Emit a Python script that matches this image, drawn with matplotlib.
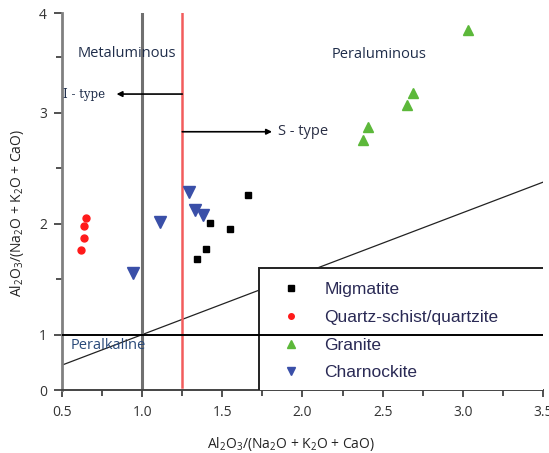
import matplotlib
matplotlib.use('Agg')
import matplotlib.pyplot as plt
from matplotlib.patches import Rectangle

plt.rcParams['font.family'] = ['Open Sans', 'DejaVu Sans']
plt.rcParams['mathtext.default'] = 'regular'

# data (x = A/CNK, y = A/NK)
mig_x = [1.66, 1.42, 1.55, 1.40, 1.34]
mig_y = [2.26, 2.01, 1.95, 1.77, 1.68]

qtz_x = [0.65, 0.64, 0.64, 0.62]
qtz_y = [2.05, 1.98, 1.87, 1.76]

gra_x = [3.03, 2.69, 2.65, 2.41, 2.38]
gra_y = [3.75, 3.18, 3.07, 2.87, 2.76]

cha_x = [1.29, 1.33, 1.38, 1.11, 0.94]
cha_y = [2.29, 2.12, 2.08, 2.02, 1.555]

# y axis of the original is not evenly spaced at the ends
ytick_pos = [0.5, 1, 2, 3, 3.9]
ytick_lab = ['0', '1', '2', '3', '4']

fig = plt.figure(figsize=(5.49, 4.53), dpi=100)
ax = fig.add_axes([0.113, 0.139, 0.876, 0.832])
ax.set_xlim(0.5, 3.5)
ax.set_ylim(0.5, 3.9)

# reference lines
ax.axvline(1.0, color='#707070', lw=2.2, zorder=2)
ax.axvline(1.25, ymin=0.008, color='#f25c5c', lw=1.8, zorder=2)
ax.axhline(1.0, color='black', lw=1.4, zorder=7)
ax.plot([0.5, 3.5], [1 + 0.55 * (0.5 - 1), 1 + 0.55 * (3.5 - 1)],
        color='#222222', lw=0.9, zorder=1)

# arrows and labels
ax.annotate('', xy=(0.84, 3.17), xytext=(1.25, 3.17),
            arrowprops=dict(arrowstyle='-|>', color='black', lw=1.2,
                            mutation_scale=8, shrinkA=0, shrinkB=0))
ax.annotate('', xy=(1.81, 2.83), xytext=(1.25, 2.83),
            arrowprops=dict(arrowstyle='-|>', color='black', lw=1.2,
                            mutation_scale=8, shrinkA=0, shrinkB=0))
ax.text(0.505, 3.17, 'I - type', fontsize=8.5, color='#1f2d4a', family='DejaVu Serif',
        va='center', ha='left')
ax.text(1.85, 2.83, 'S - type', fontsize=10.5, color='#2a2f45', va='center', ha='left')
ax.text(0.905, 3.54, 'Metaluminous', fontsize=10.5, color='#1f2d4a', ha='center', va='center')
ax.text(2.48, 3.53, 'Peraluminous', fontsize=10.5, color='#1f2d4a', ha='center', va='center')
ax.text(0.79, 0.9, 'Peralkaline', fontsize=10.5, color='#2a4a7a', ha='center', va='center')

# scatter series
ax.plot(mig_x, mig_y, 's', color='black', ms=5, ls='none', label='Migmatite', zorder=3)
ax.plot(qtz_x, qtz_y, 'o', color='#ff1a1a', ms=5, ls='none', label='Quartz-schist/quartzite', zorder=3)
ax.plot(gra_x, gra_y, '^', color='#5cb83a', ms=6.5, ls='none', label='Granite', zorder=3)
ax.plot(cha_x, cha_y, 'v', color='#3a4fa8', ms=8, ls='none', label='Charnockite', zorder=3)

# legend box (white, hides the diagonal line, the y=1 line stays on top)
box = Rectangle((0.41, -0.005), 0.62, 0.329, transform=ax.transAxes,
                facecolor='white', edgecolor='#222222', lw=1.4, clip_on=True)
box.set_zorder(5)
ax.add_patch(box)
leg = ax.legend(loc='upper left', bbox_to_anchor=(0.43, 0.318), frameon=False,
                prop={'family': 'Liberation Sans', 'size': 12.5},
                labelspacing=0.72, handlelength=1.2, handletextpad=1.3,
                markerscale=0.8, borderpad=0.2)
leg.set_zorder(6)
for t in leg.get_texts():
    t.set_color('#2a2a55')

# axes styling
for s in ['top', 'right']:
    ax.spines[s].set_visible(False)
ax.spines['left'].set_color('#808080')
ax.spines['left'].set_linewidth(2)
ax.spines['bottom'].set_color('#444444')
ax.spines['bottom'].set_linewidth(1.4)

ax.set_xticks([0.5, 1.0, 1.5, 2.0, 2.5, 3.0, 3.5])
ax.set_xticklabels(['0.5', '1.0', '1.5', '2.0', '2.5', '3.0', '3.5'])
ax.set_xticks([0.75, 1.25, 1.75, 2.25, 2.75, 3.25], minor=True)
ax.set_yticks(ytick_pos)
ax.set_yticklabels(ytick_lab)
ax.set_yticks([1.5, 2.5, 3.5], minor=True)
ax.tick_params(axis='both', which='both', direction='out', labelsize=10,
               colors='#333333', width=1.2)
ax.tick_params(axis='x', which='major', length=5, pad=6)
ax.tick_params(axis='x', which='minor', length=4)
ax.tick_params(axis='y', which='major', length=6, pad=5)
ax.tick_params(axis='y', which='minor', length=4)

ax.set_xlabel(r'Al$_2$O$_3$/(Na$_2$O + K$_2$O + CaO)', fontsize=10, color='#222222')
ax.xaxis.set_label_coords(0.475, -0.118)
ax.set_ylabel(r'Al$_2$O$_3$/(Na$_2$O + K$_2$O + CaO)', fontsize=10, color='#222222')
ax.yaxis.set_label_coords(-0.075, 0.47)

fig.savefig('out.png', dpi=100)
